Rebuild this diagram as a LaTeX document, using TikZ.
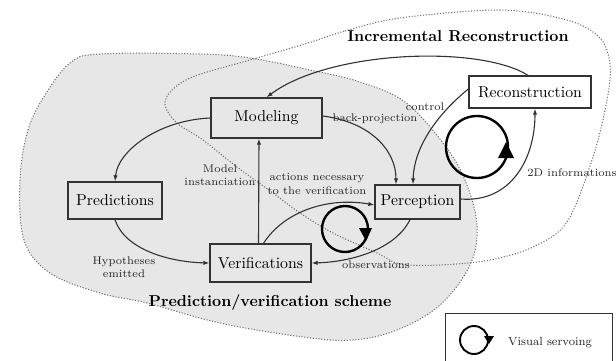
\documentclass[tikz,border=0pt]{standalone}
\usetikzlibrary{arrows.meta}
\newcommand\pxu{0.633pt}
\definecolor{regiongray}{gray}{0.905}
\definecolor{linegray}{gray}{0.2}
\tikzset{
  box/.style={draw=linegray, line width=0.85pt, inner sep=0pt, font=\fontsize{10}{12}\selectfont},
  lab/.style={font=\fontsize{7}{8.4}\selectfont, inner sep=1pt, align=center, text=black!85},
  title/.style={font=\fontsize{10}{12}\selectfont\bfseries, inner sep=0pt},
  conn/.style={draw=linegray, line width=0.7pt, -{Latex[length=3.8pt,width=2.8pt]}},
  region/.style={draw=gray!85!black, line width=0.65pt, dash pattern=on 0.7pt off 1.1pt},
  servo/.style={draw=black, line width=1.5pt},
  servohead/.style={fill=black, draw=none}
}
\begin{document}
\begin{tikzpicture}[x=\pxu, y=-\pxu]
\useasboundingbox (0,0) rectangle (616,360);

% prediction/verification region (shaded)
\path[region, fill=regiongray] plot[smooth cycle, tension=0.6] coordinates {
  (20,180) (28,130) (45,95) (70,63) (100,54) (200,54) (250,58) (310,70)
  (360,82) (405,102) (443,143) (465,180) (477,225) (470,265) (440,305)
  (397,330) (353,340) (303,337) (220,323) (147,303) (100,293) (50,273) (24,240)};

% incremental reconstruction region
\path[region] plot[smooth cycle, tension=0.55] coordinates {
  (308,43) (345,31) (400,18) (500,10) (567,20) (600,38) (610,65) (607,100)
  (593,157) (567,222) (533,247) (490,260) (440,265) (400,264) (377,253)
  (333,233) (300,213) (273,193) (237,167) (203,140) (177,123) (165,105)
  (172,90) (195,76) (250,60)};

\node[title] (tinc) at (458,36) {Incremental Reconstruction};
\node[title] (tpv) at (270,303) {Prediction/verification scheme};

% process boxes
\node[box, minimum width=111*\pxu, minimum height=40*\pxu] (mod) at (266.5,118) {Modeling};
\node[box, minimum width=94*\pxu, minimum height=37*\pxu] (pred) at (115,200.5) {Predictions};
\node[box, minimum width=101*\pxu, minimum height=38*\pxu] (ver) at (260.5,263) {Verifications};
\node[box, minimum width=85*\pxu, minimum height=34*\pxu] (per) at (417.5,202) {Perception};
\node[box, fill=white, minimum width=122*\pxu, minimum height=32*\pxu] (rec) at (530,92) {Reconstruction};

% connectors
\draw[conn] (rec.north) ++(-2,0) coordinate (r1)
  (r1) .. controls (480,45) and (330,50) .. (mod.north);
\draw[conn] (mod.west) .. controls (160,120) and (118,150) .. (pred.north);
\draw[conn] (pred.south) .. controls (125,250) and (170,262) .. (ver.west);
\draw[conn] ([yshift=2*\pxu]mod.east) .. controls (370,122) and (396,150) .. ([xshift=-21.5*\pxu]per.north);
\draw[conn] ([yshift=3*\pxu]rec.west) .. controls (440,112) and (414,145) .. ([xshift=-4.5*\pxu]per.north);
\draw[conn] ([xshift=-2*\pxu]ver.north) -- ([xshift=-7.5*\pxu]mod.south);
\draw[conn] ([xshift=3*\pxu]ver.north) .. controls (285,210) and (330,197) .. ([yshift=-3*\pxu]per.west);
\draw[conn] ([xshift=-7.5*\pxu]per.south) .. controls (395,250) and (350,262) .. (ver.east);
\draw[conn] ([yshift=3*\pxu]per.east) .. controls (510,203) and (535,160) .. ([xshift=5*\pxu]rec.south);

% connector labels
\node[lab] (l1) at (375,119) {back-projection};
\node[lab] (l2) at (425,107) {control};
\node[lab] (l3) at (220,175) {Model\\instanciation};
\node[lab] (l4) at (317,184) {actions necessary\\to the verification};
\node[lab] (l5) at (376,265) {observations};
\node[lab] (l6) at (572,173) {2D informations};
\node[lab] (l7) at (124,267) {Hypotheses\\emitted};

% visual servoing loops
\draw[servo] (477,147) circle[radius=31];
\fill[servohead] (506,142) -- (514,158) -- (498,158) -- cycle;
\draw[servo] (345,229) circle[radius=23];
\fill[servohead] (366,241) -- (372,228) -- (359,228) -- cycle;

% legend
\node[draw=linegray, line width=0.6pt, fill=white, minimum width=167*\pxu, minimum height=50*\pxu, inner sep=0pt] (leg) at (528.5,338) {};
\draw[servo, line width=1.2pt] (474,340) circle[radius=14];
\fill[servohead] (489,344) -- (494,336) -- (484,336) -- cycle;
\node[lab, font=\fontsize{7.5}{9}\selectfont] (legt) at (550,343) {Visual servoing};
\end{tikzpicture}
\end{document}
